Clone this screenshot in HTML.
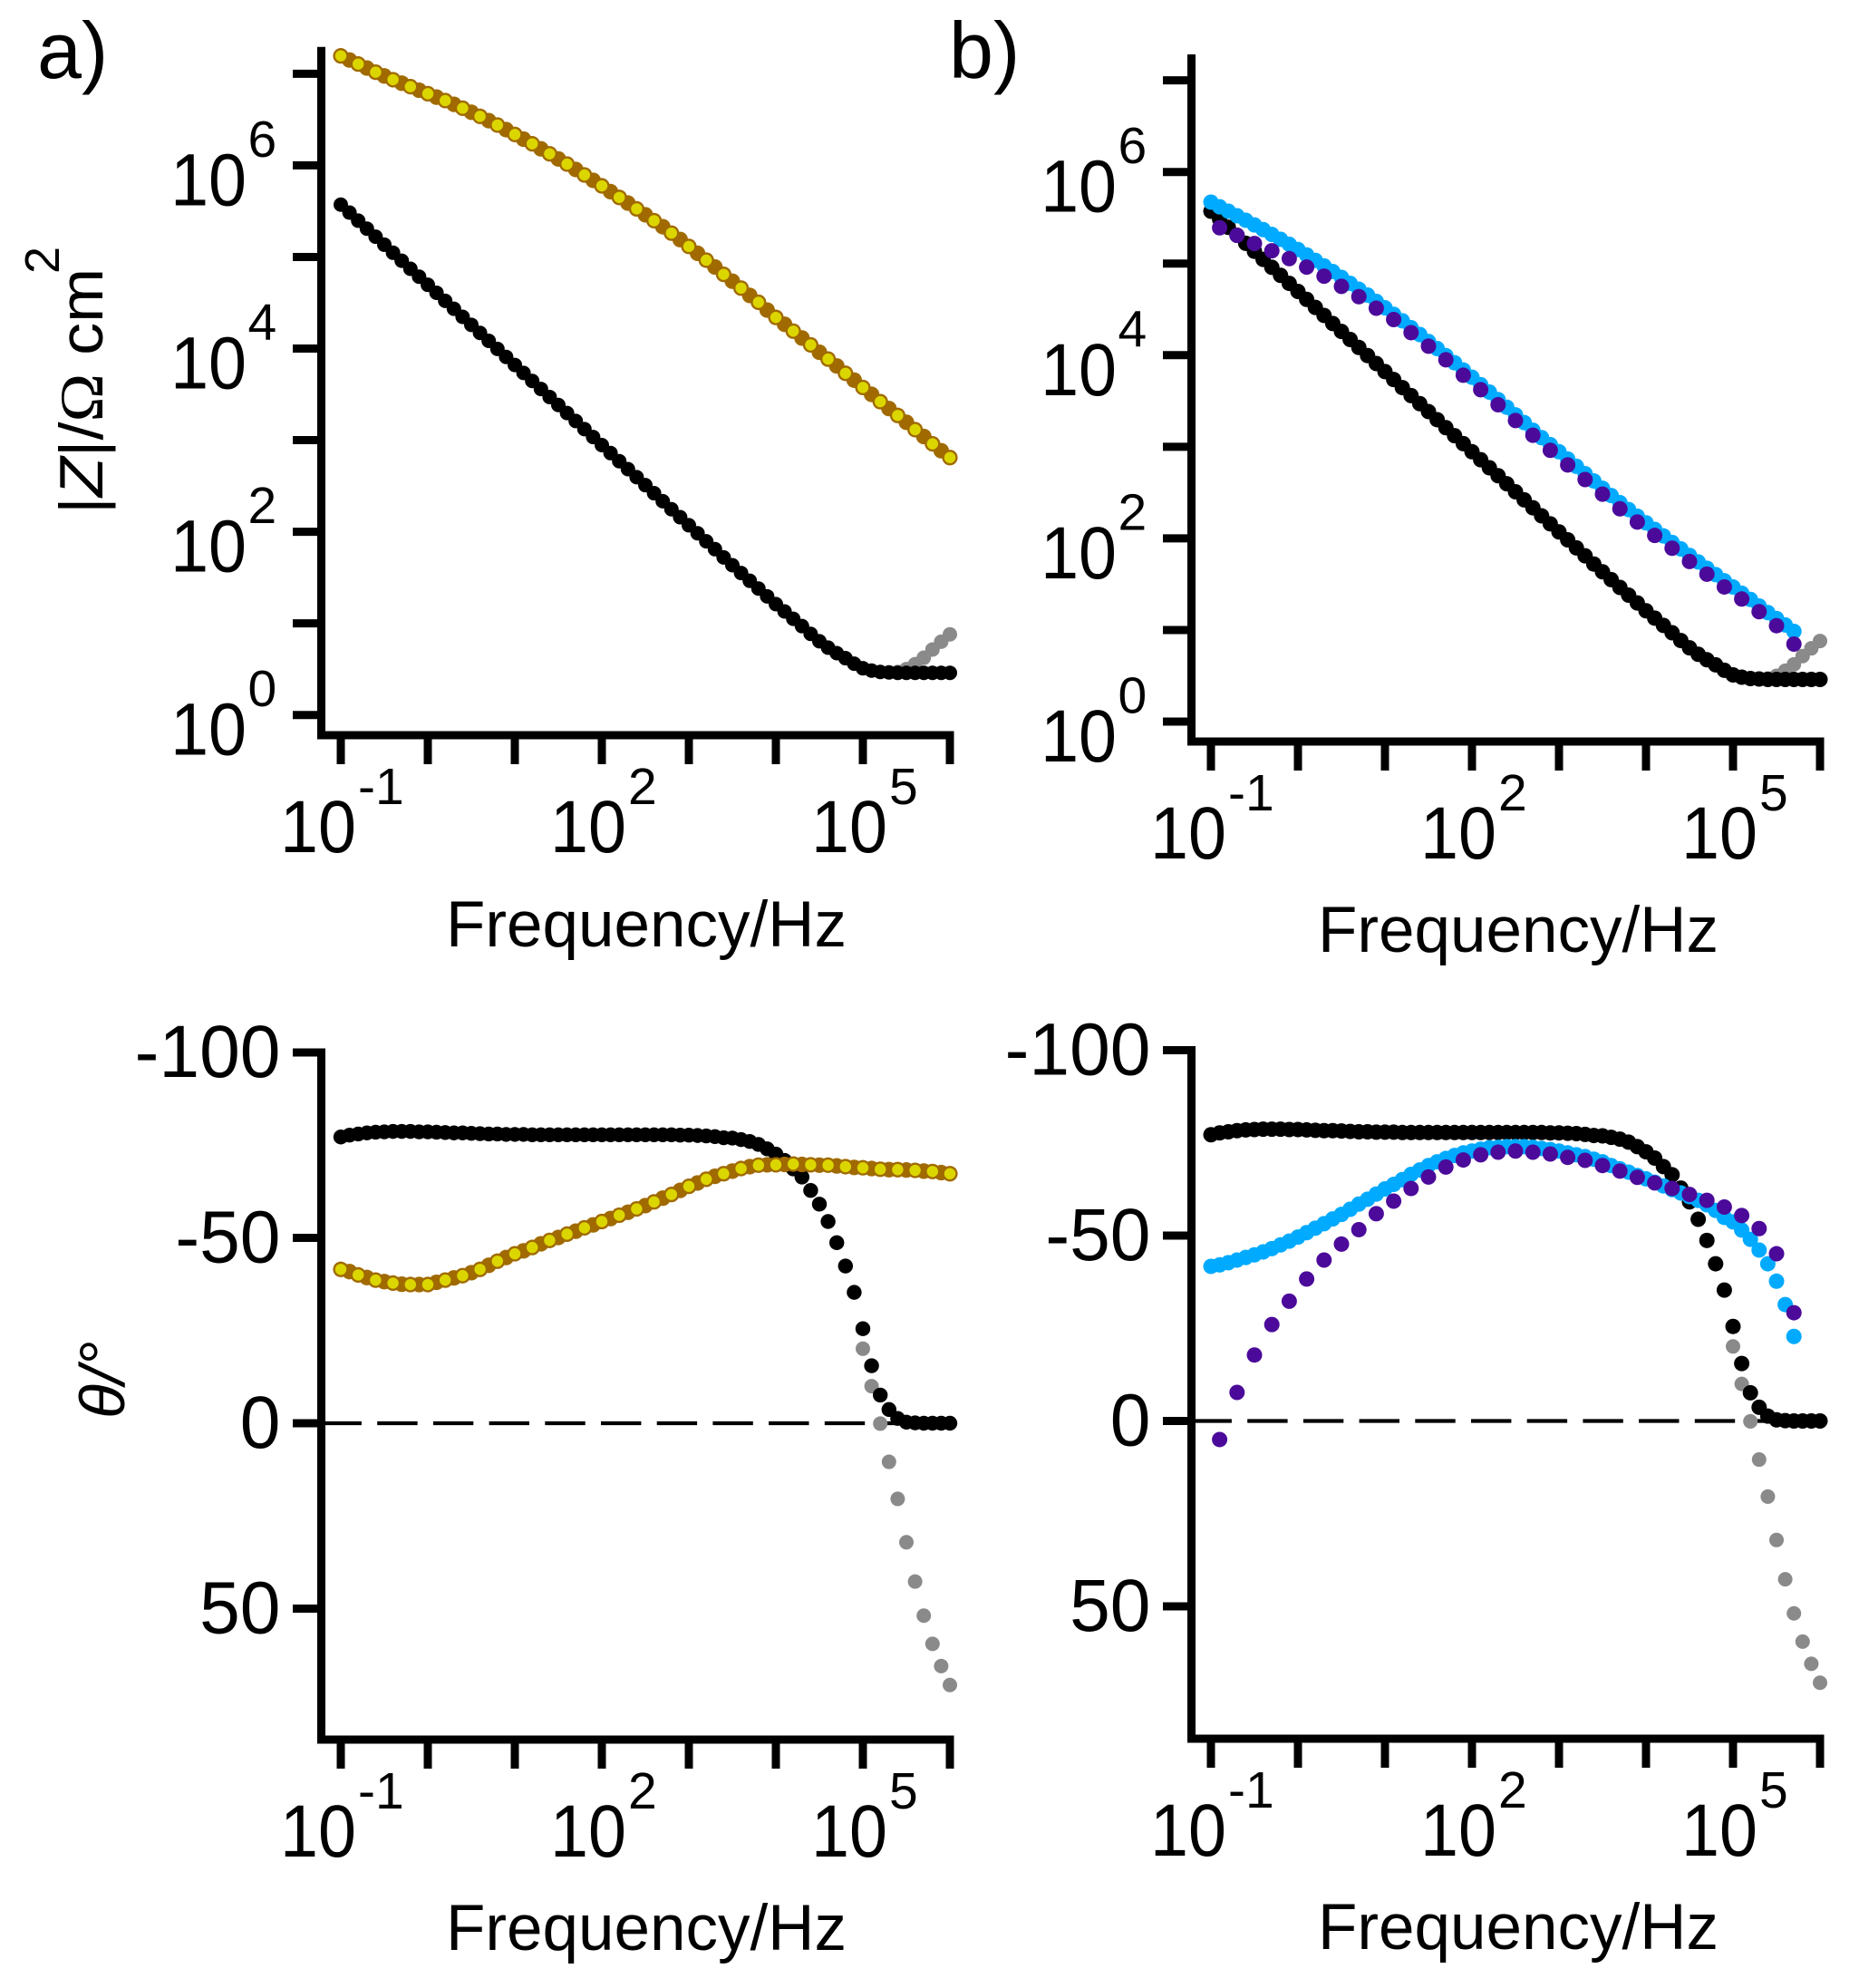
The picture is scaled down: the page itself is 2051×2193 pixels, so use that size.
<!DOCTYPE html>
<html lang="en">
<head>
<meta charset="utf-8">
<title>Impedance Bode plots</title>
<style>
html,body{margin:0;padding:0;background:#fff;}
svg{display:block;}
text{font-family:"Liberation Sans",Arial,sans-serif;fill:#000;}
</style>
</head>
<body>
<svg id="figure" xmlns="http://www.w3.org/2000/svg" width="2051" height="2193" viewBox="0 0 2051 2193">
  <rect x="0" y="0" width="2051" height="2193" fill="#fff"/>
  <text x="41" y="86" font-size="88">a)</text>
  <text x="1047" y="86" font-size="88">b)</text>
  <g>
    <text transform="translate(113 567) rotate(-90) scale(1.06 1)" font-size="68">|<tspan font-style="italic">Z</tspan>|/<tspan style="font-family:'Liberation Serif',serif">Ω</tspan> cm</text>
    <text transform="translate(65 302) rotate(-90)" font-size="54">2</text>
  </g>
  <text transform="translate(137 1565) rotate(-90)" font-size="70" font-style="italic">θ/°</text>
  <text x="492" y="1044" font-size="71">Frequency/Hz</text>
  <text x="1454" y="1050" font-size="71">Frequency/Hz</text>
  <text x="492" y="2151" font-size="71">Frequency/Hz</text>
  <text x="1454" y="2150" font-size="71">Frequency/Hz</text>
</svg>
<script>
// ---- categories: log10(frequency / Hz)
const logFreq = [-1,-0.9,-0.8,-0.7,-0.6,-0.5,-0.4,-0.3,-0.2,-0.1,0,0.1,0.2,0.3,0.4,0.5,0.6,0.7,0.8,0.9,1,1.1,1.2,1.3,1.4,1.5,1.6,1.7,1.8,1.9,2,2.1,2.2,2.3,2.4,2.5,2.6,2.7,2.8,2.9,3,3.1,3.2,3.3,3.4,3.5,3.6,3.7,3.8,3.9,4,4.1,4.2,4.3,4.4,4.5,4.6,4.7,4.8,4.9,5,5.1,5.2,5.3,5.4,5.5,5.6,5.7,5.8,5.9,6];
const logFreqGreyZ = [5.4,5.5,5.6,5.7,5.8,5.9,6];
const logFreqGreyPhase = [5,5.1,5.2,5.3,5.4,5.5,5.6,5.7,5.8,5.9,6];
const logFreqBlue = [-1,-0.9,-0.8,-0.7,-0.6,-0.5,-0.4,-0.3,-0.2,-0.1,0,0.1,0.2,0.3,0.4,0.5,0.6,0.7,0.8,0.9,1,1.1,1.2,1.3,1.4,1.5,1.6,1.7,1.8,1.9,2,2.1,2.2,2.3,2.4,2.5,2.6,2.7,2.8,2.9,3,3.1,3.2,3.3,3.4,3.5,3.6,3.7,3.8,3.9,4,4.1,4.2,4.3,4.4,4.5,4.6,4.7,4.8,4.9,5,5.1,5.2,5.3,5.4,5.5,5.6,5.7];
const logFreqPurple = [-0.9,-0.7,-0.5,-0.3,-0.1,0.1,0.3,0.5,0.7,0.9,1.1,1.3,1.5,1.7,1.9,2.1,2.3,2.5,2.7,2.9,3.1,3.3,3.5,3.7,3.9,4.1,4.3,4.5,4.7,4.9,5.1,5.3,5.5,5.7];

// ---- tick labels
const xTickExponents = [-1,0,1,2,3,4,5,6];
const xLabelExponents = [-1,2,5];
const zTickExponents = [0,1,2,3,4,5,6,7];
const zLabelExponents = [0,2,4,6];
const phaseTicks = [-100,-50,0,50];

// ---- log10 |Z| series
const zBlack = [5.571,5.484,5.396,5.309,5.221,5.134,5.046,4.959,4.871,4.784,4.696,4.609,4.521,4.434,4.346,4.259,4.171,4.084,3.996,3.909,3.821,3.734,3.646,3.559,3.471,3.384,3.296,3.209,3.121,3.034,2.946,2.859,2.771,2.684,2.596,2.509,2.421,2.334,2.246,2.159,2.071,1.984,1.896,1.81,1.72,1.635,1.55,1.465,1.38,1.295,1.21,1.13,1.05,0.97,0.885,0.805,0.735,0.675,0.62,0.56,0.51,0.485,0.47,0.465,0.46,0.46,0.46,0.46,0.46,0.46,0.46];
const zBrown = [7.195,7.15,7.106,7.062,7.017,6.976,6.935,6.897,6.859,6.82,6.782,6.745,6.707,6.666,6.624,6.58,6.535,6.488,6.44,6.39,6.337,6.286,6.235,6.18,6.126,6.07,6.014,5.955,5.895,5.836,5.776,5.713,5.65,5.588,5.525,5.46,5.396,5.33,5.26,5.19,5.115,5.04,4.965,4.89,4.81,4.735,4.66,4.58,4.505,4.42,4.34,4.265,4.19,4.115,4.04,3.96,3.885,3.81,3.73,3.655,3.575,3.50,3.42,3.345,3.27,3.195,3.115,3.04,2.96,2.885,2.81];
const zGrey = [0.47,0.50,0.555,0.625,0.715,0.80,0.88];
const zBlue = [5.671,5.62,5.572,5.522,5.473,5.422,5.371,5.318,5.265,5.21,5.153,5.094,5.035,4.974,4.913,4.849,4.784,4.72,4.656,4.587,4.517,4.446,4.375,4.30,4.226,4.149,4.072,3.995,3.917,3.838,3.759,3.678,3.597,3.515,3.432,3.348,3.264,3.18,3.10,3.023,2.946,2.866,2.787,2.707,2.627,2.547,2.468,2.39,2.315,2.242,2.17,2.098,2.027,1.956,1.885,1.814,1.743,1.674,1.605,1.537,1.469,1.401,1.334,1.262,1.19,1.125,1.055,0.985];
const zPurple = [5.391,5.308,5.219,5.140,5.054,4.962,4.863,4.751,4.639,4.513,4.389,4.246,4.098,3.950,3.781,3.623,3.459,3.287,3.126,2.961,2.802,2.642,2.483,2.323,2.178,2.032,1.893,1.748,1.609,1.470,1.338,1.200,1.047,0.846];

// ---- phase series (degrees, as plotted)
const phaseBlack = [-77.2,-77.7,-78.0,-78.3,-78.5,-78.6,-78.7,-78.7,-78.7,-78.6,-78.6,-78.5,-78.4,-78.3,-78.3,-78.2,-78.1,-78.0,-78.0,-77.9,-77.9,-77.9,-77.8,-77.8,-77.8,-77.8,-77.8,-77.8,-77.8,-77.8,-77.8,-77.8,-77.8,-77.8,-77.8,-77.8,-77.8,-77.8,-77.8,-77.7,-77.7,-77.6,-77.5,-77.3,-77.0,-76.9,-76.5,-76.0,-75.2,-74.0,-72.6,-70.9,-68.6,-66.4,-62.8,-59.1,-54.4,-48.7,-42.4,-35.3,-25.5,-15.5,-7.6,-3.7,-1.3,-0.3,-0.1,0,0,0,0];
const phaseBrown = [-41.5,-40.9,-40.0,-39.3,-38.6,-38.2,-37.8,-37.5,-37.4,-37.4,-37.4,-38.0,-38.6,-39.2,-39.8,-40.6,-41.5,-42.6,-43.7,-44.7,-45.7,-46.5,-47.4,-48.4,-49.3,-50.1,-51.0,-51.8,-52.7,-53.5,-54.4,-55.2,-56.1,-56.9,-57.8,-58.7,-59.7,-60.7,-61.7,-62.8,-63.9,-64.8,-65.8,-66.6,-67.3,-68.0,-68.7,-69.2,-69.6,-69.7,-69.7,-69.8,-69.9,-69.8,-69.7,-69.6,-69.6,-69.4,-69.2,-69.0,-68.9,-68.7,-68.5,-68.4,-68.4,-68.3,-68.2,-68.0,-67.9,-67.6,-67.3];
const phaseGrey = [-20.1,-10.0,0.1,10.4,20.4,32.1,42.7,51.9,59.5,65.5,70.6];
const phaseBlue = [-41.7,-42.1,-42.7,-43.4,-44.1,-44.8,-45.6,-46.5,-47.5,-48.5,-49.6,-50.8,-52,-53.2,-54.5,-55.7,-57.1,-58.5,-59.8,-61.2,-62.6,-63.8,-65.1,-66.5,-67.7,-68.9,-69.9,-70.8,-71.6,-72.3,-72.8,-73.3,-73.7,-73.8,-74,-74,-74,-73.8,-73.5,-73.2,-72.8,-72.3,-71.8,-71.3,-70.6,-69.9,-68.9,-68,-67.1,-66.2,-65.3,-64.4,-63.4,-62.4,-61.5,-60.5,-59.5,-58.3,-56.8,-54.9,-53.7,-51.5,-49,-46.1,-42.4,-37.7,-31.4,-22.8];
const phasePurple = [5,-7.7,-17.8,-26,-32.3,-38.3,-43.4,-47.7,-51.6,-55.9,-59.3,-62.7,-65.8,-68.5,-70.4,-71.8,-72.5,-72.8,-72.5,-72,-71.1,-70.3,-68.9,-67.4,-65.7,-64.2,-62.7,-61.1,-59.5,-57.7,-55.4,-51.9,-45.1,-29.2];

const SVGNS = 'http://www.w3.org/2000/svg';
const root = document.getElementById('figure');
const AXIS_W = 9;

function mk(tag, attrs, parent) {
  const el = document.createElementNS(SVGNS, tag);
  for (const k in attrs) el.setAttribute(k, attrs[k]);
  parent.appendChild(el);
  return el;
}

function drawLine(parent, name, x1, y1, x2, y2, w) {
  const el = mk('line', {x1: x1, y1: y1, x2: x2, y2: y2, stroke: '#000', 'stroke-width': w}, parent);
  
  
  return el;
}

function drawNumber(parent, name, x, y, str, anchor, sx) {
  const el = mk('text', {transform: 'translate(' + x + ' ' + y + ') scale(' + sx + ' 1)', 'font-size': 82, 'text-anchor': anchor || 'start'}, parent);
  el.textContent = str;
  
  
  return el;
}

function drawExponent(parent, name, x, y, str) {
  const el = mk('text', {x: x, y: y, 'font-size': 57}, parent);
  el.textContent = str;
  
  
  return el;
}

function makePanel(id, cfg) {
  const g = mk('g', {}, root);
  
  
  const px = function (logf) { return cfg.x0 + 96 * (logf + 1); };

  drawLine(g, id + '-y-axis', cfg.axisX, cfg.top, cfg.axisX, cfg.bottom + AXIS_W / 2, AXIS_W);
  drawLine(g, id + '-x-axis', cfg.axisX - AXIS_W / 2, cfg.bottom, px(6) + AXIS_W / 2, cfg.bottom, AXIS_W);

  xTickExponents.forEach(function (e) {
    drawLine(g, id + '-x-tick', px(e), cfg.bottom, px(e), cfg.bottom + 32, AXIS_W);
  });
  xLabelExponents.forEach(function (e) {
    const sup = String(e);
    const start = px(e) - 57 - (sup.length > 1 ? 10 : 0);
    drawNumber(g, id + '-x-tick-label', start, cfg.bottom + 129, '10', 'start', 0.92);
    drawExponent(g, id + '-x-tick-label-exponent', start + 86, cfg.bottom + 76, sup);
  });
  return {g: g, px: px, py: cfg.yScale};
}

function drawDots(panel, name, xs, ys, color, r) {
  const s = mk('g', {}, panel.g);
  
  
  xs.forEach(function (f, i) {
    const c = mk('circle', {cx: panel.px(f), cy: panel.py(ys[i]), r: r, fill: color}, s);
    
    
  });
}

function drawYellowOverlay(panel, name, xs, ys) {
  const s = mk('g', {}, panel.g);
  
  
  xs.forEach(function (f, i) {
    if (i % 2 !== 0) return;
    const c = mk('circle', {cx: panel.px(f), cy: panel.py(ys[i]), r: 7, fill: '#dcd600', stroke: '#a06a00', 'stroke-width': 1.6}, s);
    
    
  });
}

function zAxisPanel(id, x0, axisX, y0, top, bottom) {
  const yz = function (logZ) { return y0 - 101.05 * logZ; };
  const p = makePanel(id, {x0: x0, axisX: axisX, top: top, bottom: bottom, yScale: yz});
  zTickExponents.forEach(function (e) {
    drawLine(p.g, id + '-y-tick', axisX - 31.5, yz(e), axisX, yz(e), AXIS_W);
  });
  zLabelExponents.forEach(function (e) {
    drawNumber(p.g, id + '-y-tick-label', axisX - 82.5, yz(e) + 44, '10', 'end', 0.92);
    drawExponent(p.g, id + '-y-tick-label-exponent', axisX - 81, yz(e) - 9.5, String(e));
  });
  return p;
}

function phaseAxisPanel(id, x0, axisX, y0, bottom) {
  const yp = function (deg) { return y0 + 4.09 * deg; };
  const p = makePanel(id, {x0: x0, axisX: axisX, top: yp(-100) - AXIS_W / 2, bottom: bottom, yScale: yp});
  phaseTicks.forEach(function (t) {
    drawLine(p.g, id + '-y-tick', axisX - 31.5, yp(t), axisX, yp(t), AXIS_W);
    drawNumber(p.g, id + '-y-tick-label', axisX - 45, yp(t) + 27, String(t), 'end', 0.98);
  });
  const dash = drawLine(p.g, id + '-zero-line', axisX, yp(0), p.px(6), yp(0), 4.2);
  dash.setAttribute('stroke-dasharray', '44.4 17.3');
  return p;
}

// Panel a, |Z|
const aTop = zAxisPanel('panel-a-impedance', 376, 354.5, 788.7, 51.7, 811);
drawDots(aTop, 'a-impedance-grey-series', logFreqGreyZ, zGrey, '#8a8a8a', 8);
drawDots(aTop, 'a-impedance-black-series', logFreq, zBlack, '#000', 8);
drawDots(aTop, 'a-impedance-brown-series', logFreq, zBrown, '#a06a00', 8.6);
drawYellowOverlay(aTop, 'a-impedance-yellow-series', logFreq, zBrown);

// Panel b, |Z|
const bTop = zAxisPanel('panel-b-impedance', 1336, 1314.5, 796, 60, 818);
drawDots(bTop, 'b-impedance-grey-series', logFreqGreyZ, zGrey, '#8a8a8a', 8);
drawDots(bTop, 'b-impedance-black-series', logFreq, zBlack, '#000', 8.5);
drawDots(bTop, 'b-impedance-blue-series', logFreqBlue, zBlue, '#00aaff', 8.5);
drawDots(bTop, 'b-impedance-purple-series', logFreqPurple, zPurple, '#4b0a9a', 8.5);

// Panel a, phase
const aBot = phaseAxisPanel('panel-a-phase', 376, 354.5, 1570, 1919);
drawDots(aBot, 'a-phase-grey-series', logFreqGreyPhase, phaseGrey, '#8a8a8a', 8);
drawDots(aBot, 'a-phase-black-series', logFreq, phaseBlack, '#000', 8.2);
drawDots(aBot, 'a-phase-brown-series', logFreq, phaseBrown, '#a06a00', 8.6);
drawYellowOverlay(aBot, 'a-phase-yellow-series', logFreq, phaseBrown);

// Panel b, phase
const bBot = phaseAxisPanel('panel-b-phase', 1336, 1314.5, 1567.5, 1918);
drawDots(bBot, 'b-phase-grey-series', logFreqGreyPhase, phaseGrey, '#8a8a8a', 8);
drawDots(bBot, 'b-phase-black-series', logFreq, phaseBlack, '#000', 8.5);
drawDots(bBot, 'b-phase-blue-series', logFreqBlue, phaseBlue, '#00aaff', 8.5);
drawDots(bBot, 'b-phase-purple-series', logFreqPurple, phasePurple, '#4b0a9a', 8.5);
</script>
</body>
</html>
